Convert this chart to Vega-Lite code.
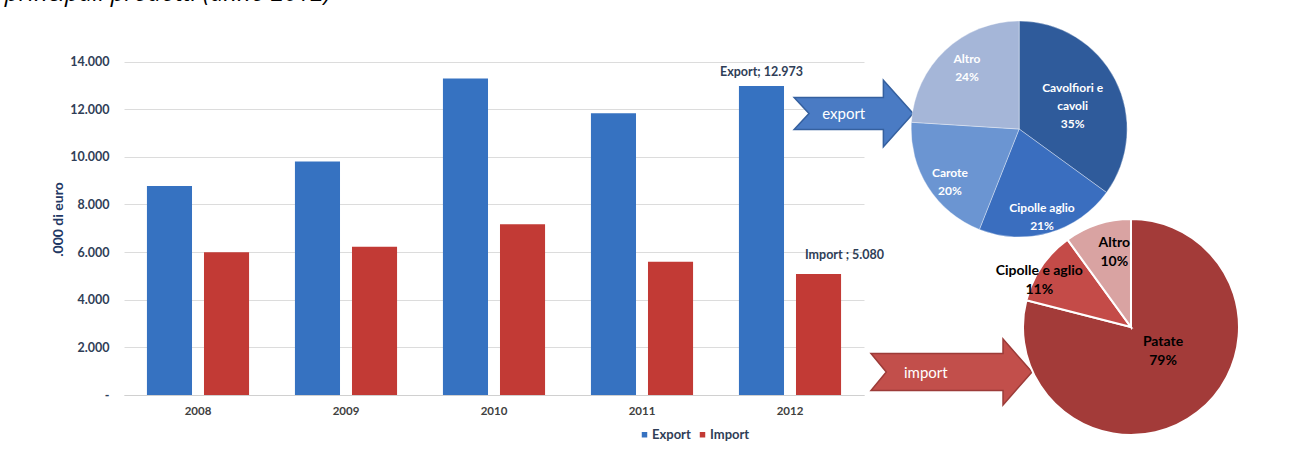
{
  "$schema": "https://vega.github.io/schema/vega-lite/v6.json",
  "background": "white",
  "padding": {"left": 4, "top": -18, "right": 0, "bottom": 0},
  "spacing": 0,
  "bounds": "flush",
  "title": {"text": "principali prodotti (anno 2012)", "anchor": "start", "frame": "bounds", "fontSize": 24, "fontStyle": "italic", "fontWeight": "normal", "font": "Open Sans", "color": "#000000", "baseline": "alphabetic", "offset": -17, "dx": -47},
  "config": {"view": {"stroke": null}, "font": "Lato"},
  "resolve": {"scale": {"color": "independent"}},
  "hconcat": [
    {
      "width": 740,
      "height": 387,
      "data": {"values": [
        {"year": "2008", "series": "Export", "value": 8780},
        {"year": "2008", "series": "Import", "value": 5990},
        {"year": "2009", "series": "Export", "value": 9800},
        {"year": "2009", "series": "Import", "value": 6230},
        {"year": "2010", "series": "Export", "value": 13290},
        {"year": "2010", "series": "Import", "value": 7170},
        {"year": "2011", "series": "Export", "value": 11830},
        {"year": "2011", "series": "Import", "value": 5590},
        {"year": "2012", "series": "Export", "value": 12973},
        {"year": "2012", "series": "Import", "value": 5080}
      ]},
      "encoding": {
        "x": {"field": "year", "type": "nominal",
          "scale": {"paddingInner": 0.31, "paddingOuter": 0.155},
          "axis": {"title": null, "labelAngle": 0, "ticks": false, "domainColor": "#d0d0d0", "labelFontWeight": "bold", "labelColor": "#404040", "labelFontSize": 11.5, "labelPadding": 10}},
        "xOffset": {"field": "series", "type": "nominal", "scale": {"paddingInner": 0.21, "paddingOuter": 0}},
        "y": {"field": "value", "type": "quantitative",
          "scale": {"domain": [0, 16250], "nice": false},
          "axis": {"title": ".000 di euro", "values": [0, 2000, 4000, 6000, 8000, 10000, 12000, 14000],
            "labelExpr": "datum.value == 0 ? '-' : replace(format(datum.value, ',.0f'), ',', '.')",
            "grid": true, "gridColor": "#dcdcdc", "ticks": false, "domain": false,
            "labelFontWeight": "bold", "labelColor": "#2f3e57", "labelFontSize": 12.5, "labelPadding": 15,
            "titleFontSize": 14, "titleColor": "#1f3864", "titleFontWeight": "bold", "titlePadding": 4, "titleY": 211}}
      },
      "layer": [
        {
          "mark": {"type": "bar"},
          "encoding": {
            "color": {"field": "series", "type": "nominal",
              "scale": {"domain": ["Export", "Import"], "range": ["#3672c1", "#c23a35"]},
              "legend": {"orient": "none", "legendX": 514, "legendY": 420, "direction": "horizontal", "title": null,
                "symbolType": "square", "symbolSize": 30, "labelFontSize": 13, "labelColor": "#2f3e57", "labelFontWeight": "bold", "labelOffset": 1, "columnPadding": 5, "symbolStrokeWidth": 0}}
          }
        },
        {
          "transform": [
            {"filter": "datum.year == '2012' && datum.series == 'Export'"},
            {"calculate": "datum.series + ';  ' + replace(format(datum.value, ',.0f'), ',', '.')", "as": "label"}
          ],
          "mark": {"type": "text", "dy": -14, "fontSize": 12.5, "fontWeight": "bold", "color": "#2f3e57"},
          "encoding": {"text": {"field": "label"}}
        },
        {
          "transform": [
            {"filter": "datum.year == '2012' && datum.series == 'Import'"},
            {"calculate": "datum.series + ' ;  ' + replace(format(datum.value, ',.0f'), ',', '.')", "as": "label"}
          ],
          "mark": {"type": "text", "dy": -19, "dx": 26, "fontSize": 12.5, "fontWeight": "bold", "color": "#2f3e57"},
          "encoding": {"text": {"field": "label"}}
        }
      ]
    },
    {
      "width": 451,
      "height": 445,
      "data": {"values": [
        {"pie": "export", "name": "Cavolfiori e cavoli", "lab": "Cavolfiori e\ncavoli", "share": 35},
        {"pie": "export", "name": "Cipolle aglio", "lab": "Cipolle aglio", "share": 21},
        {"pie": "export", "name": "Carote", "lab": "Carote", "share": 20},
        {"pie": "export", "name": "Altro", "lab": "Altro", "share": 24},
        {"pie": "import", "name": "Patate", "lab": "Patate", "share": 79},
        {"pie": "import", "name": "Cipolle e aglio", "lab": "Cipolle e aglio", "share": 11},
        {"pie": "import", "name": "Altro", "lab": "Altro", "share": 10}
      ]},
      "transform": [
        {"window": [{"op": "row_number", "as": "ord"}]},
        {"calculate": "datum.lab + '\\n' + datum.share + '%'", "as": "txt"}
      ],
      "resolve": {"scale": {"color": "independent"}},
      "layer": [
        {
          "data": {"values": [{"flow": "export"}]},
          "mark": {"type": "point", "filled": true, "shape": "M-1,-0.27L0.5,-0.27L0.5,-0.56L1,0L0.5,0.56L0.5,0.27L-1,0.27L-0.75,0Z", "size": 14161, "fill": "#4a7bc4", "stroke": "#35609f", "strokeWidth": 1.5, "opacity": 1},
          "encoding": {
            "x": {"datum": -2.3, "type": "quantitative", "scale": {"domain": [0, 100]}, "axis": null},
            "y": {"datum": 23.7, "type": "quantitative", "scale": {"domain": [0, 100], "reverse": true}, "axis": null}
          }
        },
        {
          "data": {"values": [{"flow": "export"}]},
          "mark": {"type": "text", "fontSize": 15, "color": "white", "font": "Lato"},
          "encoding": {
            "x": {"datum": -4.5, "type": "quantitative"},
            "y": {"datum": 23.8, "type": "quantitative"},
            "text": {"field": "flow"}
          }
        },
        {
          "data": {"values": [{"flow": "import"}]},
          "mark": {"type": "point", "filled": true, "shape": "M-1,-0.23L0.64,-0.23L0.64,-0.41L1,0L0.64,0.41L0.64,0.23L-1,0.23L-0.81,0Z", "size": 25921, "fill": "#c24f4b", "stroke": "#9c3b38", "strokeWidth": 1.5, "opacity": 1},
          "encoding": {
            "x": {"datum": 19.4, "type": "quantitative"},
            "y": {"datum": 81.8, "type": "quantitative"}
          }
        },
        {
          "data": {"values": [{"flow": "import"}]},
          "mark": {"type": "text", "fontSize": 15, "color": "white", "font": "Lato"},
          "encoding": {
            "x": {"datum": 13.7, "type": "quantitative"},
            "y": {"datum": 82.0, "type": "quantitative"},
            "text": {"field": "flow"}
          }
        },
        {
          "transform": [{"filter": "datum.pie == 'export'"}],
          "mark": {"type": "arc", "outerRadius": 108, "stroke": "#ffffff", "strokeWidth": 0.6, "strokeOpacity": 0.6},
          "encoding": {
            "x": {"datum": 34.4, "type": "quantitative"},
            "y": {"datum": 27.2, "type": "quantitative"},
            "theta": {"field": "share", "type": "quantitative", "stack": true},
            "order": {"field": "ord", "type": "quantitative"},
            "color": {"field": "name", "type": "nominal", "legend": null,
              "scale": {"domain": ["Cavolfiori e cavoli", "Cipolle aglio", "Carote", "Altro"], "range": ["#2f5b9b", "#3a6ebf", "#6b95d2", "#a5b6d8"]}}
          }
        },
        {
          "transform": [{"filter": "datum.pie == 'export'"}],
          "mark": {"type": "text", "radius": 82, "fontSize": 12, "fontWeight": "bold", "color": "white", "lineBreak": "\n", "lineHeight": 18},
          "encoding": {
            "x": {"datum": 34.4, "type": "quantitative"},
            "y": {"datum": 27.2, "type": "quantitative"},
            "theta": {"field": "share", "type": "quantitative", "stack": true},
            "order": {"field": "ord", "type": "quantitative"},
            "text": {"condition": {"test": "datum.name == 'Carote' || datum.name == 'Cipolle aglio'", "field": "txt"}, "value": ""}
          }
        },
        {
          "transform": [{"filter": "datum.pie == 'export'"}],
          "mark": {"type": "text", "radius": 82, "dx": 4, "dy": -10, "fontSize": 12, "fontWeight": "bold", "color": "white", "lineBreak": "\n", "lineHeight": 18},
          "encoding": {
            "x": {"datum": 34.4, "type": "quantitative"},
            "y": {"datum": 27.2, "type": "quantitative"},
            "theta": {"field": "share", "type": "quantitative", "stack": true},
            "order": {"field": "ord", "type": "quantitative"},
            "text": {"condition": {"test": "datum.name == 'Altro'", "field": "txt"}, "value": ""}
          }
        },
        {
          "transform": [{"filter": "datum.pie == 'export'"}],
          "mark": {"type": "text", "radius": 60, "dy": -14, "fontSize": 12, "fontWeight": "bold", "color": "white", "lineBreak": "\n", "lineHeight": 18},
          "encoding": {
            "x": {"datum": 34.4, "type": "quantitative"},
            "y": {"datum": 27.2, "type": "quantitative"},
            "theta": {"field": "share", "type": "quantitative", "stack": true},
            "order": {"field": "ord", "type": "quantitative"},
            "text": {"condition": {"test": "datum.name == 'Cavolfiori e cavoli'", "field": "txt"}, "value": ""}
          }
        },
        {
          "transform": [{"filter": "datum.pie == 'import'"}],
          "mark": {"type": "arc", "outerRadius": 108, "stroke": "#ffffff", "strokeWidth": 2},
          "encoding": {
            "x": {"datum": 59.2, "type": "quantitative"},
            "y": {"datum": 71.7, "type": "quantitative"},
            "theta": {"field": "share", "type": "quantitative", "stack": true},
            "order": {"field": "ord", "type": "quantitative"},
            "color": {"field": "name", "type": "nominal", "legend": null,
              "scale": {"domain": ["Patate", "Cipolle e aglio", "Altro"], "range": ["#a33b39", "#c44b48", "#d9a3a2"]}}
          }
        },
        {
          "transform": [{"filter": "datum.pie == 'import'"}],
          "mark": {"type": "text", "radius": 36, "dx": 10, "dy": -14, "fontSize": 14, "fontWeight": "bold", "color": "black", "lineBreak": "\n", "lineHeight": 19},
          "encoding": {
            "x": {"datum": 59.2, "type": "quantitative"},
            "y": {"datum": 71.7, "type": "quantitative"},
            "theta": {"field": "share", "type": "quantitative", "stack": true},
            "order": {"field": "ord", "type": "quantitative"},
            "text": {"condition": {"test": "datum.name == 'Patate'", "field": "txt"}, "value": ""}
          }
        },
        {
          "transform": [{"filter": "datum.pie == 'import'"}],
          "mark": {"type": "text", "radius": 100, "dx": -9, "fontSize": 14, "fontWeight": "bold", "color": "black", "lineBreak": "\n", "lineHeight": 19},
          "encoding": {
            "x": {"datum": 59.2, "type": "quantitative"},
            "y": {"datum": 71.7, "type": "quantitative"},
            "theta": {"field": "share", "type": "quantitative", "stack": true},
            "order": {"field": "ord", "type": "quantitative"},
            "text": {"condition": {"test": "datum.name == 'Cipolle e aglio'", "field": "txt"}, "value": ""}
          }
        },
        {
          "transform": [{"filter": "datum.pie == 'import'"}],
          "mark": {"type": "text", "radius": 80, "dx": 8, "dy": -8, "fontSize": 14, "fontWeight": "bold", "color": "black", "lineBreak": "\n", "lineHeight": 19},
          "encoding": {
            "x": {"datum": 59.2, "type": "quantitative"},
            "y": {"datum": 71.7, "type": "quantitative"},
            "theta": {"field": "share", "type": "quantitative", "stack": true},
            "order": {"field": "ord", "type": "quantitative"},
            "text": {"condition": {"test": "datum.name == 'Altro'", "field": "txt"}, "value": ""}
          }
        }
      ]
    }
  ]
}
